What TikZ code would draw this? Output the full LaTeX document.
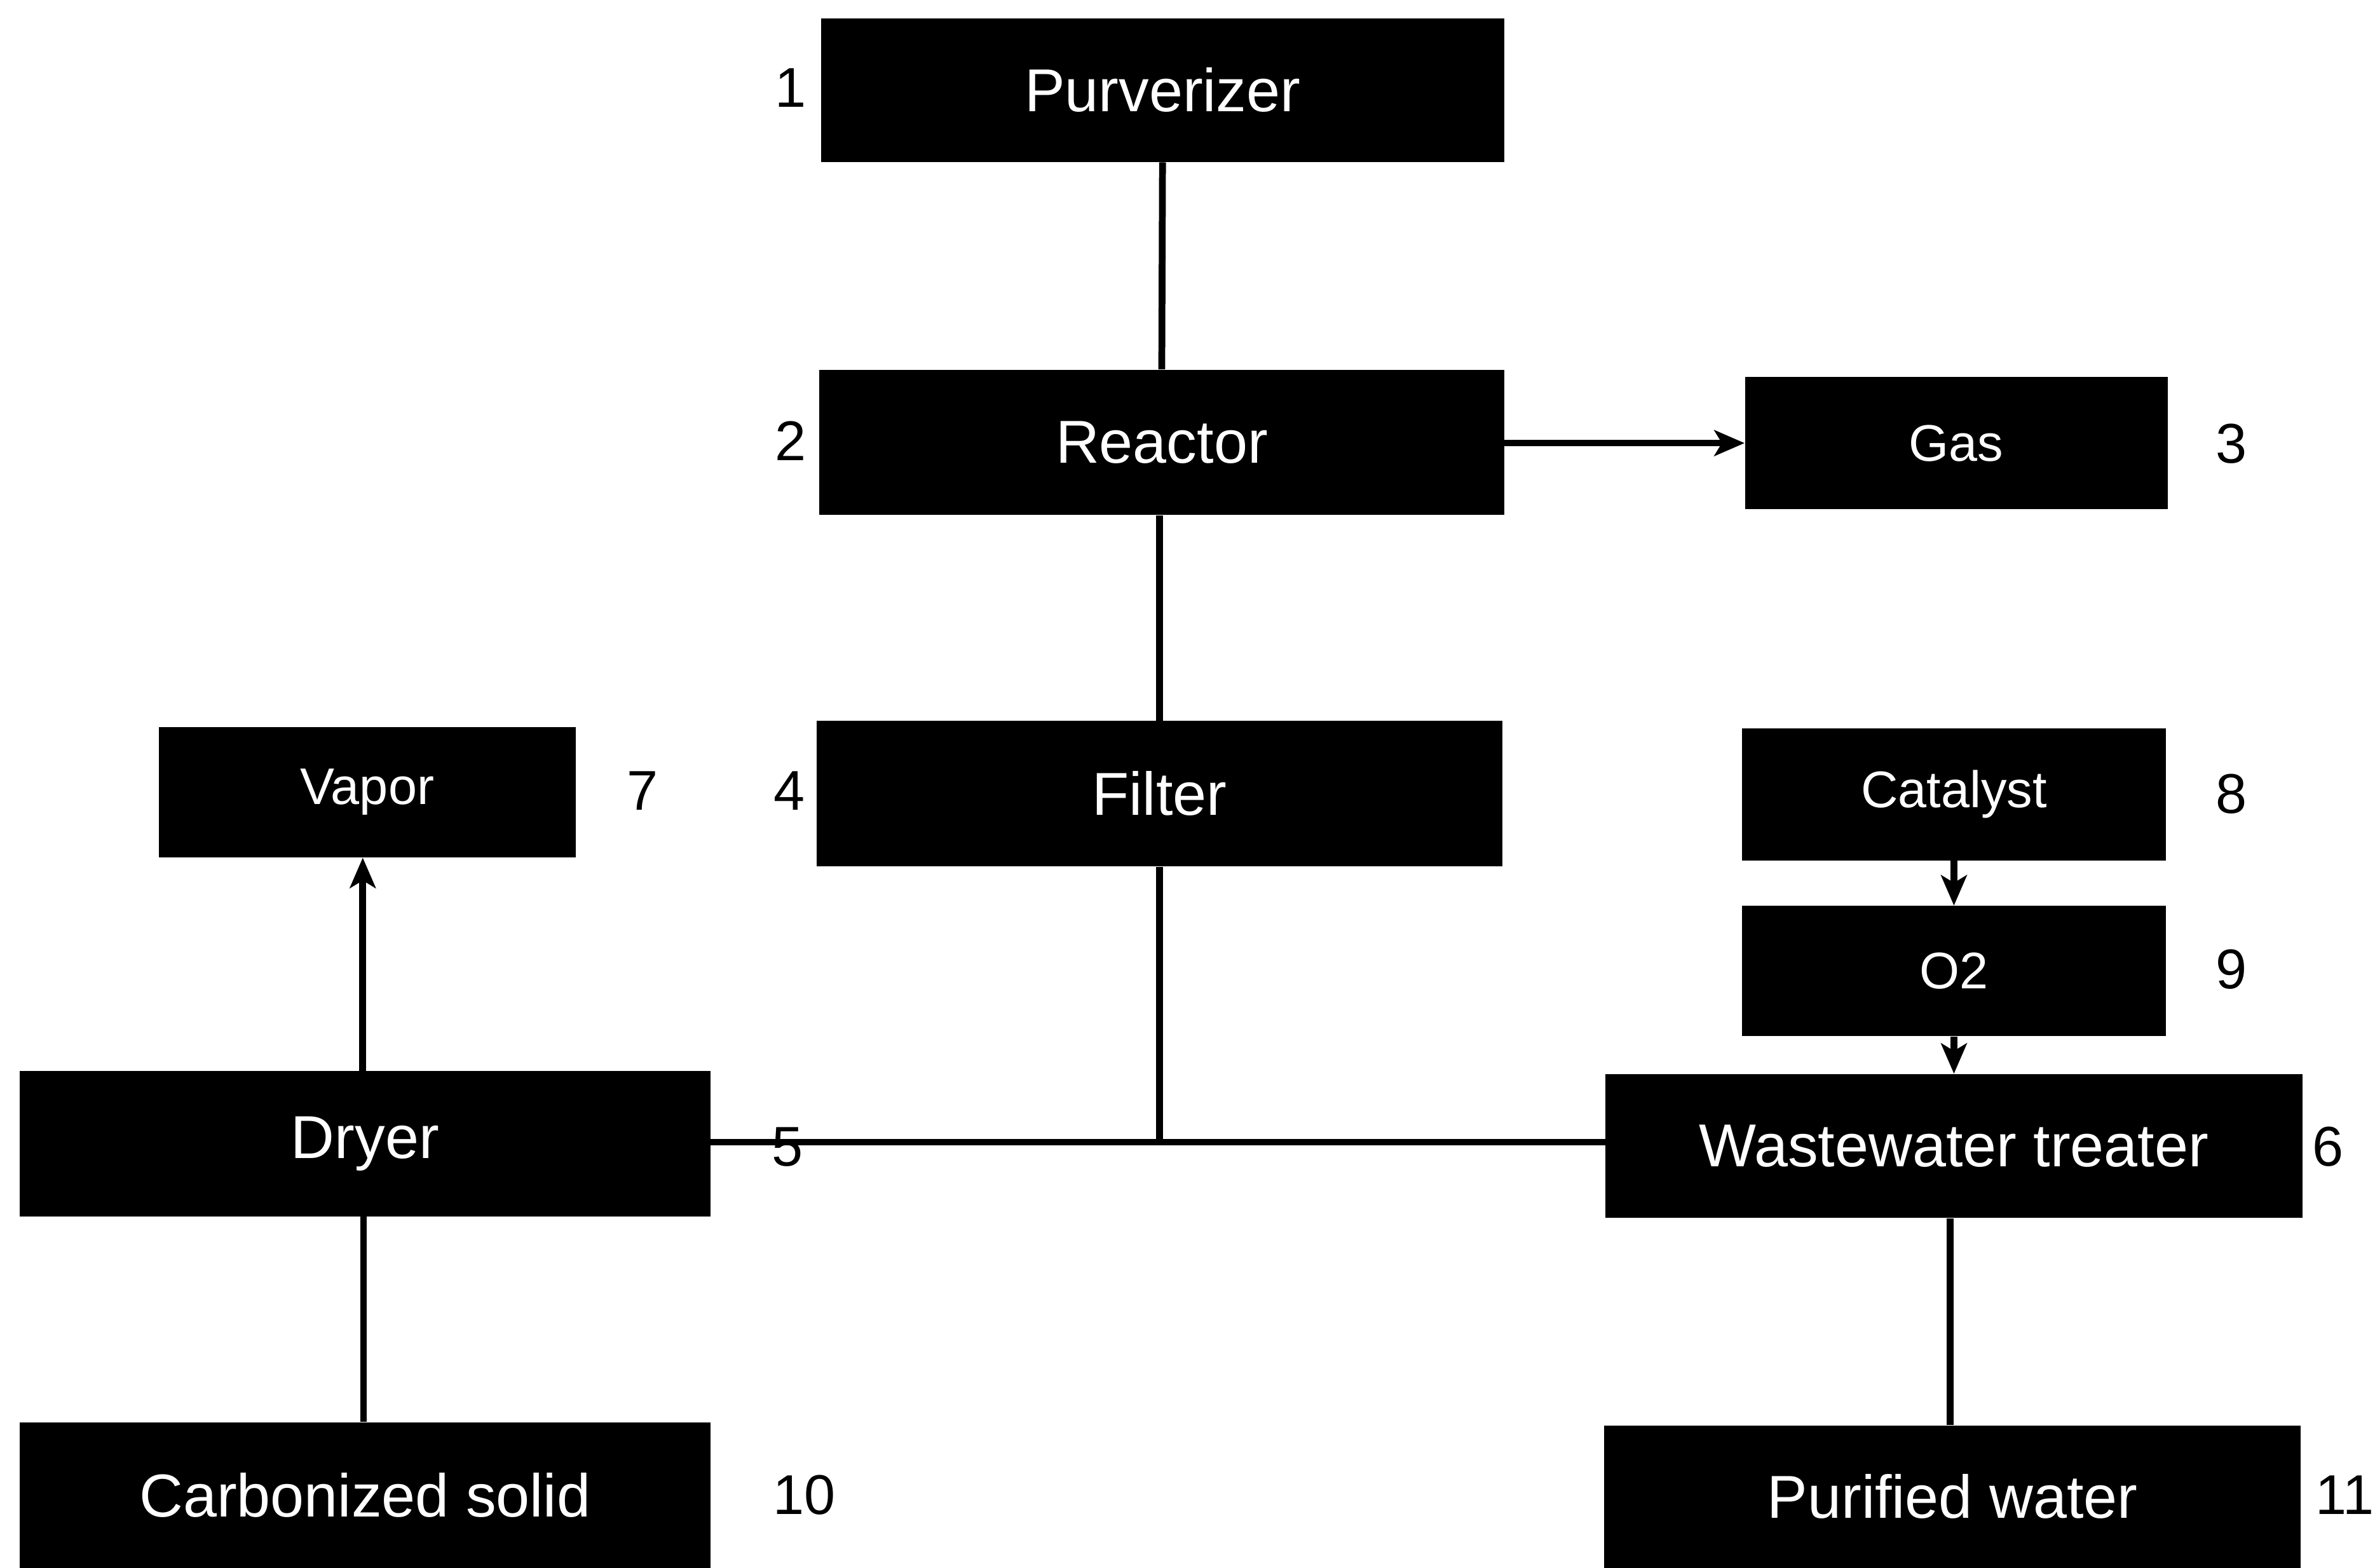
\documentclass[tikz,border=0pt]{standalone}
\usepackage{fontspec}
\setmainfont{Liberation Sans}
\usetikzlibrary{arrows.meta}
\begin{document}
\begin{tikzpicture}[x=1pt,y=-1pt,
  unit/.style={fill=black,text=white,inner sep=0pt,font=\fontsize{40}{44}\selectfont},
  small/.style={unit,font=\fontsize{34}{38}\selectfont},
  tag/.style={inner sep=0pt,font=\fontsize{37}{40}\selectfont},
  pipe/.style={line width=4.5pt},
  flow/.style={pipe,-{Stealth[length=20pt,width=17pt,inset=5pt]}}]
\useasboundingbox (0,0) rectangle (1568,1035);
% process units
\node[unit,minimum width=451pt,minimum height=95pt] (pulv) at (767.5,59.5) {Purverizer};
\node[unit,minimum width=452pt,minimum height=96pt] (reac) at (767,292) {Reactor};
\node[small,minimum width=279pt,minimum height=87pt] (gas) at (1291.5,292.5) {Gas};
\node[unit,minimum width=453pt,minimum height=96pt] (filt) at (765.5,524) {Filter};
\node[small,minimum width=275pt,minimum height=86pt] (vap) at (242.5,523) {Vapor};
\node[small,minimum width=280pt,minimum height=87pt] (cat) at (1290,524.5) {Catalyst};
\node[small,minimum width=280pt,minimum height=86pt] (oxy) at (1290,641) {O2};
\node[unit,minimum width=456pt,minimum height=96pt] (dry) at (241,755) {Dryer};
\node[unit,minimum width=460pt,minimum height=95pt] (wwt) at (1290,756.5) {Wastewater treater};
\node[unit,minimum width=456pt,minimum height=96pt] (carb) at (241,987) {Carbonized solid};
\node[unit,minimum width=460pt,minimum height=94pt] (pure) at (1289,988) {Purified water};
% reference numerals
\node[tag] (n1) at (522,58) {1};
\node[tag] (n2) at (522,291) {2};
\node[tag] (n3) at (1473,293) {3};
\node[tag] (n4) at (521,522) {4};
\node[tag] (n7) at (424,522) {7};
\node[tag] (n8) at (1473,524) {8};
\node[tag] (n9) at (1473,640) {9};
\node[tag] (n6) at (1537,757) {6};
\node[tag] (n10) at (531,987) {10};
\node[tag] (n11) at (1548,987) {11};
% connections
\coordinate (jn) at (765.5,754);
\draw[pipe] (pulv.south) -- (reac.north);
\draw[flow] (reac.east |- gas.west) -- (gas.west);
\draw[pipe] (filt.north |- reac.south) -- (filt.north);
\draw[pipe] (filt.south) -- (jn);
\draw[pipe] (dry.east |- jn) -- (wwt.west |- jn);
\draw[flow] ([xshift=-1.5pt]dry.north) -- ([xshift=-1.5pt]dry.north |- vap.south);
\draw[pipe] ([xshift=-1pt]carb.north) -- ([xshift=-1pt]dry.south);
\draw[flow] (cat.south) -- (oxy.north);
\draw[flow] (oxy.south) -- (oxy.south |- wwt.north);
\draw[pipe] ([xshift=-1.5pt]pure.north |- wwt.south) -- ([xshift=-1.5pt]pure.north);
\node[tag] (n5) at (520,757) {5};
\end{tikzpicture}
\end{document}
